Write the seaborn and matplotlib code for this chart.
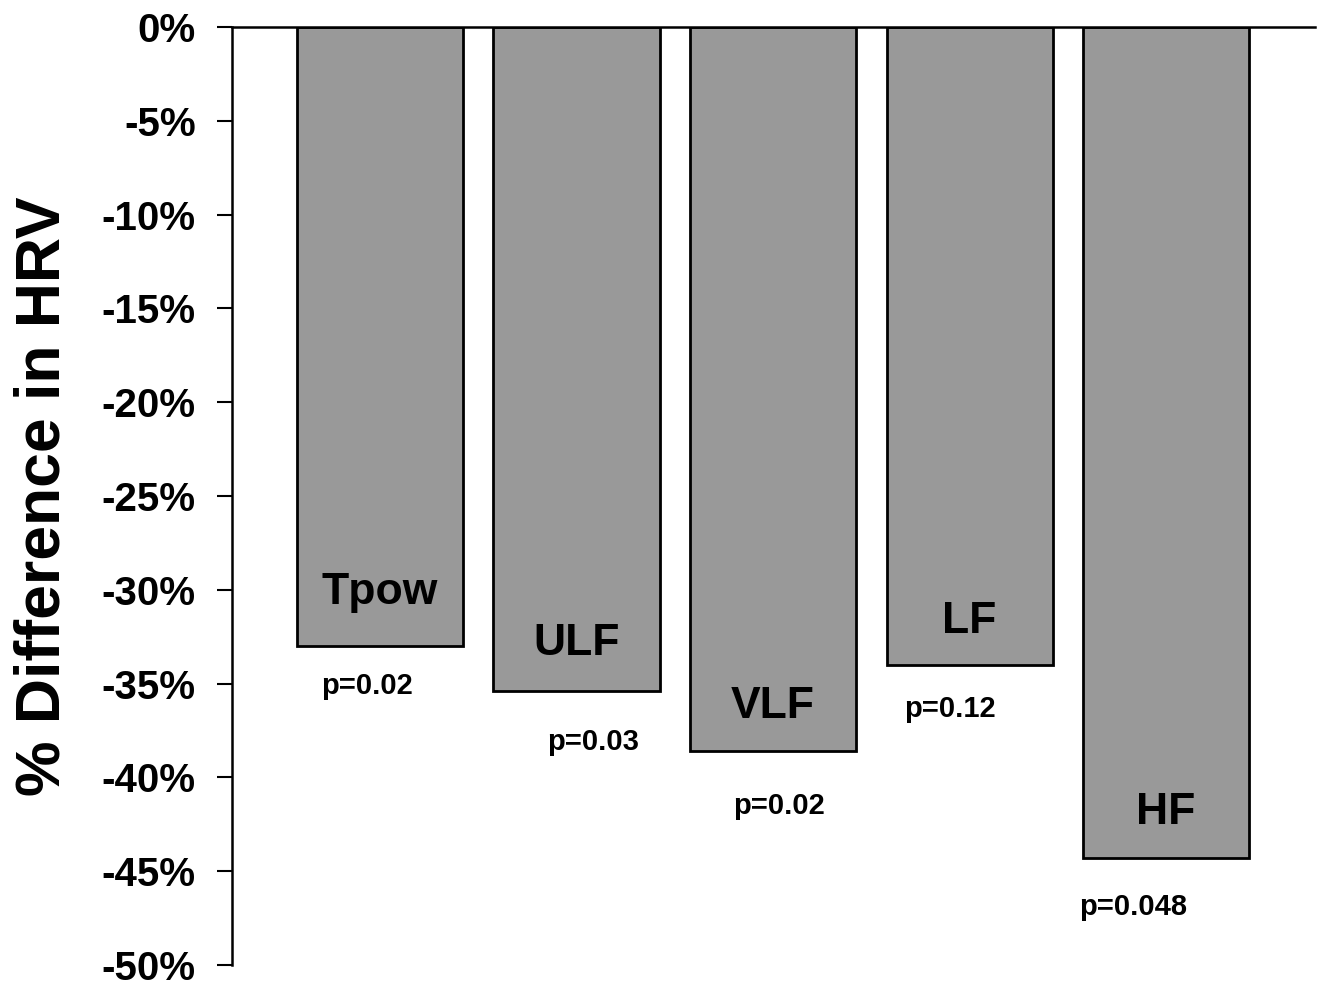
import matplotlib
matplotlib.use("Agg")
import matplotlib.pyplot as plt
import seaborn as sns
import pandas as pd

# values
bands = ["Tpow", "ULF", "VLF", "LF", "HF"]
pct_diff = [-33.0, -35.4, -38.6, -34.0, -44.3]
p_values = ["p=0.02", "p=0.03", "p=0.02", "p=0.12", "p=0.048"]
y_ticks = [0, -5, -10, -15, -20, -25, -30, -35, -40, -45, -50]

# label placement (pixels relative to bar bottom centre)
name_dy = [54, 48, 45, 43, 46]
pval_dx = [-13, 17, 6, -20, -33]
pval_dy = [40, 51, 55, 44, 49]

sns.set_style("white")
plt.rcParams["font.family"] = ["Liberation Sans", "DejaVu Sans"]
plt.rcParams["font.weight"] = "bold"
plt.rcParams.update({"text.color": "black", "axes.labelcolor": "black",
                     "xtick.color": "black", "ytick.color": "black"})

df = pd.DataFrame({"band": bands, "diff": pct_diff})

fig = plt.figure(figsize=(13.21, 9.88), dpi=100)
ax = fig.add_axes([0.1756, 0.0233, 0.9955 - 0.1756, 0.9727 - 0.0233])

sns.barplot(data=df, x="band", y="diff", color="#999999", saturation=1,
            edgecolor="black", linewidth=2, width=0.845, ax=ax)

for i, (v, name, pv) in enumerate(zip(pct_diff, bands, p_values)):
    ax.annotate(name, xy=(i, v), xytext=(0, name_dy[i]), textcoords="offset pixels",
                ha="center", va="center", fontsize=32, fontweight="bold")
    ax.annotate(pv, xy=(i, v), xytext=(pval_dx[i], -pval_dy[i]), textcoords="offset pixels",
                ha="center", va="center", fontsize=21, fontweight="bold")

ax.set_ylim(-50, 0)
ax.set_xlim(-0.753, 4.758)
ax.set_yticks(y_ticks)
ax.set_yticklabels([f"{t}%" for t in y_ticks], fontsize=29, fontweight="bold")
ax.set_xticks([])
ax.set_xlabel("")
ax.set_ylabel("% Difference in HRV", fontsize=45, fontweight="bold", labelpad=21)
ax.tick_params(axis="y", direction="out", length=11, width=1.5, left=True, pad=15)

for s in ["bottom", "right"]:
    ax.spines[s].set_visible(False)
for s in ["left", "top"]:
    ax.spines[s].set_color("black")
    ax.spines[s].set_linewidth(1.8)

fig.savefig("out.png", dpi=100)
